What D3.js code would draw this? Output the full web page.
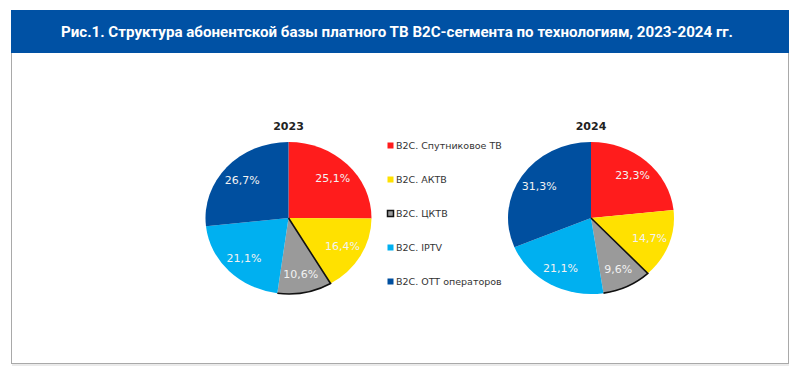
<!DOCTYPE html>
<html>
<head>
<meta charset="utf-8">
<script src="https://cdn.jsdelivr.net/npm/d3@7"></script>
<style>
  body { margin: 0; background: #fff; }
</style>
</head>
<body>
<div id="chart"></div>
<script>
// data
const categories = ["B2C. Спутниковое ТВ", "B2C. АКТВ", "B2C. ЦКТВ", "B2C. IPTV", "B2C. OTT операторов"];
const years = ["2023", "2024"];
const values2023 = [25.1, 16.4, 10.6, 21.1, 26.7];
const values2024 = [23.3, 14.7, 9.6, 21.1, 31.3];
const colors = ["#ff1c1c", "#ffe100", "#9a9a9a", "#00b0f0", "#004f9f"];
const title = "Рис.1. Структура абонентской базы платного ТВ B2C-сегмента по технологиям, 2023-2024 гг.";

let width = 800, height = 378;

let svg = d3.select("#chart").append("svg")
    .attr("width", width)
    .attr("height", height);

// frame + header
svg.append("rect")
    .attr("x", 11.5).attr("y", 10.5)
    .attr("width", 777).attr("height", 353)
    .attr("fill", "#fff")
    .attr("stroke", "#a9a9a9");
svg.append("line")
    .attr("x1", 12).attr("x2", 789).attr("y1", 365).attr("y2", 365)
    .attr("stroke", "#d6d6d6");

svg.append("rect")
    .attr("x", 11).attr("y", 10)
    .attr("width", 778).attr("height", 43)
    .attr("fill", "#0051a4");

svg.append("text")
    .attr("x", 397).attr("y", 37)
    .attr("text-anchor", "middle")
    .attr("fill", "#fff")
    .attr("textLength", 672)
    .attr("lengthAdjust", "spacingAndGlyphs")
    .style("font", "bold 15px Roboto")
    .text(title);

let rx = 83, ry = 76;
let centers = [[288.5, 218], [591, 218]];
let series = [values2023, values2024];

let pie = d3.pie().sort(null).value(function (d) { return d; });
let arc = d3.arc().innerRadius(0).outerRadius(rx);
let labelArc = d3.arc().innerRadius(rx * 0.75).outerRadius(rx * 0.75);
let fmt = function (v) { return v.toFixed(1).replace(".", ",") + "%"; };

// outline of the ЦКТВ slice: its leading edge and outer arc only
function edgeOutline(d) {
    let p = d3.path();
    p.moveTo(0, 0);
    p.lineTo(rx * Math.sin(d.startAngle), -rx * Math.cos(d.startAngle));
    p.arc(0, 0, rx, d.startAngle - Math.PI / 2, d.endAngle - Math.PI / 2);
    return p.toString();
}

series.forEach(function (vals, k) {
    let c = centers[k];
    let g = svg.append("g")
        .attr("transform", "translate(" + c[0] + "," + c[1] + ")");

    let slices = g.append("g")
        .attr("transform", "scale(1," + (ry / rx) + ")");

    let arcs = pie(vals);

    slices.selectAll("path")
        .data(arcs)
        .enter().append("path")
        .attr("d", arc)
        .attr("fill", function (d, i) { return colors[i]; });

    slices.append("path")
        .attr("d", edgeOutline(arcs[2]))
        .attr("fill", "none")
        .attr("stroke", "#111")
        .attr("stroke-width", 1.6)
        .attr("vector-effect", "non-scaling-stroke");

    g.selectAll(".lbl")
        .data(arcs)
        .enter().append("text")
        .attr("class", "lbl")
        .attr("x", function (d) { return labelArc.centroid(d)[0]; })
        .attr("y", function (d) { return labelArc.centroid(d)[1] * ry / rx; })
        .attr("dy", "0.35em")
        .attr("text-anchor", "middle")
        .attr("fill", "#f2f2f2")
        .style("font", "11px 'DejaVu Sans'")
        .text(function (d) { return fmt(d.data); });

    g.append("text")
        .attr("x", 0)
        .attr("y", -ry - 12)
        .attr("text-anchor", "middle")
        .attr("fill", "#222")
        .style("font", "bold 11px 'DejaVu Sans'")
        .text(years[k]);
});

// legend
let y = d3.scalePoint()
    .domain(categories)
    .range([146, 282]);

let legend = svg.selectAll(".legend")
    .data(categories)
    .enter().append("g")
    .attr("class", "legend")
    .attr("transform", function (d) { return "translate(387," + y(d) + ")"; });

legend.append("rect")
    .attr("x", 0.5).attr("y", -3.5)
    .attr("width", 6).attr("height", 6)
    .attr("fill", function (d, i) { return colors[i]; })
    .attr("stroke", function (d, i) { return i === 2 ? "#111" : "none"; })
    .attr("stroke-width", 1.5);

legend.append("text")
    .attr("x", 9)
    .attr("y", 0)
    .attr("dy", "0.35em")
    .attr("fill", "#333")
    .style("font", "9.5px 'DejaVu Sans'")
    .text(function (d) { return d; });
</script>
</body>
</html>
